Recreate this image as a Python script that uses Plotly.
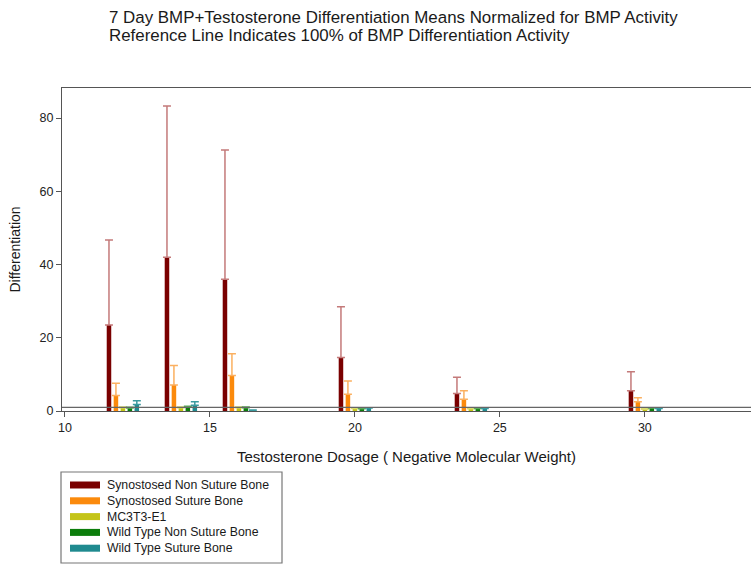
import plotly.graph_objects as go

# ---------------- data ----------------
dosages = [12, 14, 16, 20, 24, 30]
series_names = [
    "Synostosed Non Suture Bone",
    "Synostosed Suture Bone",
    "MC3T3-E1",
    "Wild Type Non Suture Bone",
    "Wild Type Suture Bone",
]
syn_non_suture = [23.5, 42.0, 36.0, 14.6, 4.8, 5.5]
syn_non_suture_err = [23.2, 41.3, 35.3, 13.9, 4.4, 5.2]
syn_suture = [4.2, 7.1, 9.7, 4.6, 3.2, 2.5]
syn_suture_err = [3.4, 5.3, 5.9, 3.6, 2.3, 1.1]
mc3t3 = [0.9, 0.9, 0.9, 0.7, 0.6, 0.5]
mc3t3_err = [0.2, 0.2, 0.2, 0.1, 0.1, 0.1]
wt_non_suture = [0.8, 1.0, 0.9, 0.6, 0.7, 0.8]
wt_non_suture_err = [0.2, 0.3, 0.2, 0.1, 0.1, 0.1]
wt_suture = [1.8, 1.6, 0.2, 0.8, 0.7, 0.7]
wt_suture_err = [1.0, 0.9, 0.1, 0.1, 0.1, 0.1]
reference_level = 1.0

x_ticks = [10, 15, 20, 25, 30]
y_ticks = [0, 20, 40, 60, 80]

values = [syn_non_suture, syn_suture, mc3t3, wt_non_suture, wt_suture]
errors = [syn_non_suture_err, syn_suture_err, mc3t3_err, wt_non_suture_err, wt_suture_err]

# ---------------- style ----------------
bar_colors = ["#7a0000", "#fb8a0c", "#c4c418", "#0b7d0b", "#1f8a8f"]
err_colors = ["#c47a7a", "#fbb060", "#dada70", "#5aaa5a", "#3a9a9f"]
FONT = "Arial, Liberation Sans, sans-serif"

W, H = 751, 564
L, R, T, B = 62, 0, 88, 153
pw, ph = W - L - R, H - T - B


def px(xp):
    return (xp - L) / pw


def py(yp):
    return (H - B - yp) / ph


fig = go.Figure()
for name, vals, errs, c, ec in zip(series_names, values, errors, bar_colors, err_colors):
    fig.add_trace(go.Bar(
        x=dosages, y=vals, name=name, marker=dict(color=c, line=dict(width=0)),
        error_y=dict(type="data", symmetric=False, array=errs,
                     arrayminus=[0] * len(errs), color=ec, thickness=1.5, width=4),
        showlegend=False,
    ))

shapes = [
    dict(type="line", xref="paper", yref="y", x0=0, x1=1, y0=reference_level,
         y1=reference_level, line=dict(color="#666666", width=1.3)),
]
annotations = [
    dict(text="7 Day BMP+Testosterone Differentiation Means Normalized for BMP Activity",
         xref="paper", yref="paper", x=px(107), y=py(18), xanchor="left", yanchor="middle",
         showarrow=False, font=dict(family=FONT, size=16.9, color="#1a1a1a")),
    dict(text="Reference Line Indicates 100% of BMP Differentiation Activity",
         xref="paper", yref="paper", x=px(107), y=py(36), xanchor="left", yanchor="middle",
         showarrow=False, font=dict(family=FONT, size=16.9, color="#1a1a1a")),
]

# manual legend
shapes.append(dict(type="rect", xref="paper", yref="paper", x0=px(61), x1=px(282),
                   y0=py(563), y1=py(472), line=dict(color="#777777", width=1.2),
                   fillcolor="white"))
for i, (name, c) in enumerate(zip(series_names, bar_colors)):
    yc = 485 + i * 15.8
    shapes.append(dict(type="rect", xref="paper", yref="paper", x0=px(70), x1=px(100),
                       y0=py(yc + 3.5), y1=py(yc - 3.5), line=dict(width=0), fillcolor=c))
    annotations.append(dict(text=name, xref="paper", yref="paper", x=px(105), y=py(yc),
                            xanchor="left", yanchor="middle", showarrow=False,
                            font=dict(family=FONT, size=12.3, color="#1a1a1a")))

fig.update_layout(
    width=W, height=H, margin=dict(l=L, r=R, t=T, b=B, pad=0),
    paper_bgcolor="white", plot_bgcolor="white",
    barmode="group", bargap=0.4, bargroupgap=0.35,
    font=dict(family=FONT, size=12, color="#222222"),
    shapes=shapes, annotations=annotations,
    xaxis=dict(range=[9.9, 33.66], tickvals=x_ticks, ticks="outside", ticklen=5,
               tickcolor="#555", showline=True, linecolor="#555", linewidth=1.2,
               mirror=True, showgrid=False, zeroline=False,
               tickfont=dict(size=12.5, color="#222"),
               title=dict(text="Testosterone Dosage ( Negative Molecular Weight)",
                          font=dict(size=15, color="#1a1a1a"), standoff=17)),
    yaxis=dict(range=[0, 88.2], tickvals=y_ticks, ticks="outside", ticklen=5,
               tickcolor="#555", showline=True, linecolor="#555", linewidth=1.2,
               mirror=True, showgrid=False, zeroline=False,
               tickfont=dict(size=12.5, color="#222"),
               title=dict(text="Differentiation", font=dict(size=14, color="#1a1a1a"),
                          standoff=15)),
)

fig.write_html("out.html")
